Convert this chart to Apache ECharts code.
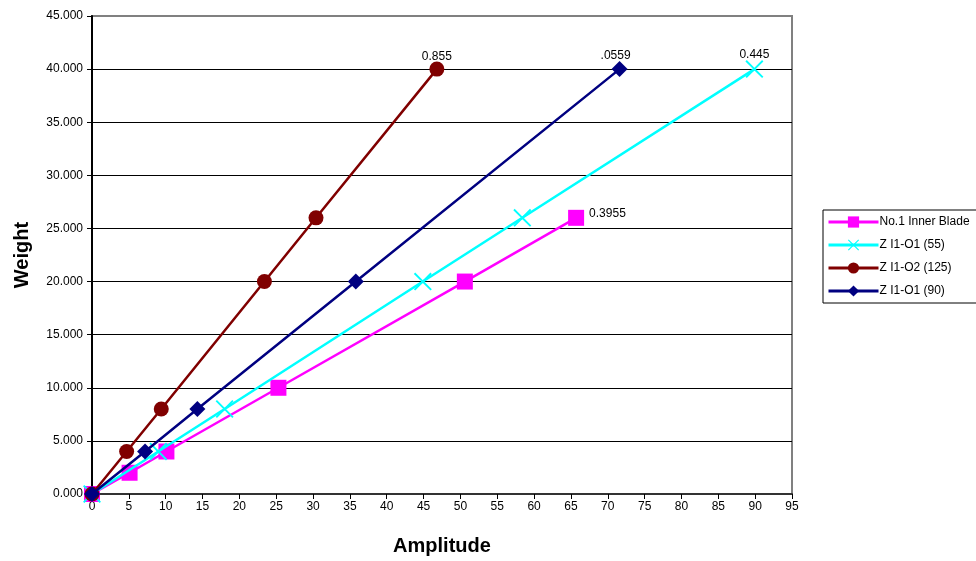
<!DOCTYPE html>
<html>
<head>
<meta charset="utf-8">
<script src="https://cdn.jsdelivr.net/npm/echarts@6/dist/echarts.min.js"></script>
<style>
html,body{margin:0;padding:0;background:#fff;}
#main{width:976px;height:561px;}
</style>
</head>
<body>
<div id="main"></div>
<script>
var seriesNames = ['No.1 Inner Blade', 'Z I1-O1 (55)', 'Z I1-O2 (125)', 'Z I1-O1 (90)'];
var innerBlade = [[0,0],[5.1,2],[10.1,4],[25.3,10],[50.6,20],[65.7,26]];
var zO1_55 = [[0,0],[9.0,4],[18.0,8],[44.9,20],[58.4,26],[89.9,40]];
var zO2_125 = [[0,0],[4.7,4],[9.4,8],[23.4,20],[30.4,26],[46.8,40]];
var zO1_90 = [[0,0],[7.2,4],[14.3,8],[35.8,20],[71.6,40]];
var endLabels = ['0.3955', '0.445', '0.855', '.0559'];
var xTicks = {min:0, max:95, interval:5};
var yTicks = {min:0, max:45, interval:5};

var FONT = 'Liberation Sans, Arial, sans-serif';
var colors = ['#ff00ff', '#00ffff', '#800000', '#000080'];
var symbols = ['rect', 'path://M0,1.5 L1.5,0 L10,8.5 L18.5,0 L20,1.5 L11.5,10 L20,18.5 L18.5,20 L10,11.5 L1.5,20 L0,18.5 L8.5,10 Z', 'circle', 'diamond'];
var symbolSizes = [16, 18, 15, 16];
var datasets = [innerBlade, zO1_55, zO2_125, zO1_90];
var labelOffsets = [[0, -4], [0, 6], [0, 6], [-4, 6]];

function makeSeries(i){
  var d = datasets[i];
  var data = d.map(function(p, k){
    var item = {value: p};
    if (k === d.length - 1) {
      item.label = {
        show: true,
        position: i === 0 ? 'right' : 'top',
        offset: labelOffsets[i],
        distance: 5,
        formatter: endLabels[i],
        color: '#000',
        fontFamily: FONT,
        fontSize: 12
      };
    }
    return item;
  });
  return {
    name: seriesNames[i],
    type: 'line',
    data: data,
    symbol: symbols[i],
    symbolSize: symbolSizes[i],
    clip: false,
    lineStyle: {color: colors[i], width: 2.5},
    itemStyle: {color: colors[i]},
    emphasis: {disabled: true},
    z: 3 + i
  };
}

var splitColors = [];
for (var v = yTicks.min; v <= yTicks.max; v += yTicks.interval) {
  splitColors.push(v === yTicks.max ? '#808080' : '#000');
}

var chart = echarts.init(document.getElementById('main'), null, {renderer: 'canvas'});
chart.setOption({
  animation: false,
  backgroundColor: '#fff',
  textStyle: {fontFamily: FONT},
  grid: {
    left: 92, top: 16, right: 184, bottom: 64,
    show: true, borderColor: '#808080', borderWidth: 2, backgroundColor: 'transparent'
  },
  legend: {
    orient: 'vertical',
    left: 823, top: 210,
    padding: [6, 8, 6, 4],
    itemGap: 11,
    itemWidth: 50, itemHeight: 14,
    backgroundColor: '#fff',
    borderColor: '#000', borderWidth: 1,
    lineStyle: {width: 3},
    textStyle: {fontFamily: FONT, fontSize: 12, color: '#000', padding: [0,0,0,-4]},
    data: seriesNames
  },
  xAxis: {
    type: 'value',
    min: xTicks.min, max: xTicks.max, interval: xTicks.interval,
    name: 'Amplitude', nameLocation: 'middle', nameGap: 42,
    nameTextStyle: {fontFamily: FONT, fontSize: 20, fontWeight: 'bold', color: '#000'},
    axisLine: {show: true, onZero: false, lineStyle: {color: '#333', width: 2}},
    axisTick: {show: true, length: 5, inside: false, lineStyle: {color: '#000', width: 1}},
    axisLabel: {fontFamily: FONT, fontSize: 12, color: '#000', margin: 7},
    splitLine: {show: false}
  },
  yAxis: {
    type: 'value',
    min: yTicks.min, max: yTicks.max, interval: yTicks.interval,
    name: 'Weight', nameLocation: 'middle', nameGap: 60, nameRotate: 90,
    nameTextStyle: {fontFamily: FONT, fontSize: 20, fontWeight: 'bold', color: '#000'},
    axisLine: {show: true, onZero: false, lineStyle: {color: '#000', width: 2}},
    axisTick: {show: true, length: 5, inside: false, lineStyle: {color: '#000', width: 1}},
    axisLabel: {fontFamily: FONT, fontSize: 12, color: '#000', margin: 9,
      formatter: function(v){ return v.toFixed(3); }},
    splitLine: {show: true, lineStyle: {color: splitColors, width: 1}}
  },
  series: [0,1,2,3].map(makeSeries)
});
</script>
</body>
</html>
